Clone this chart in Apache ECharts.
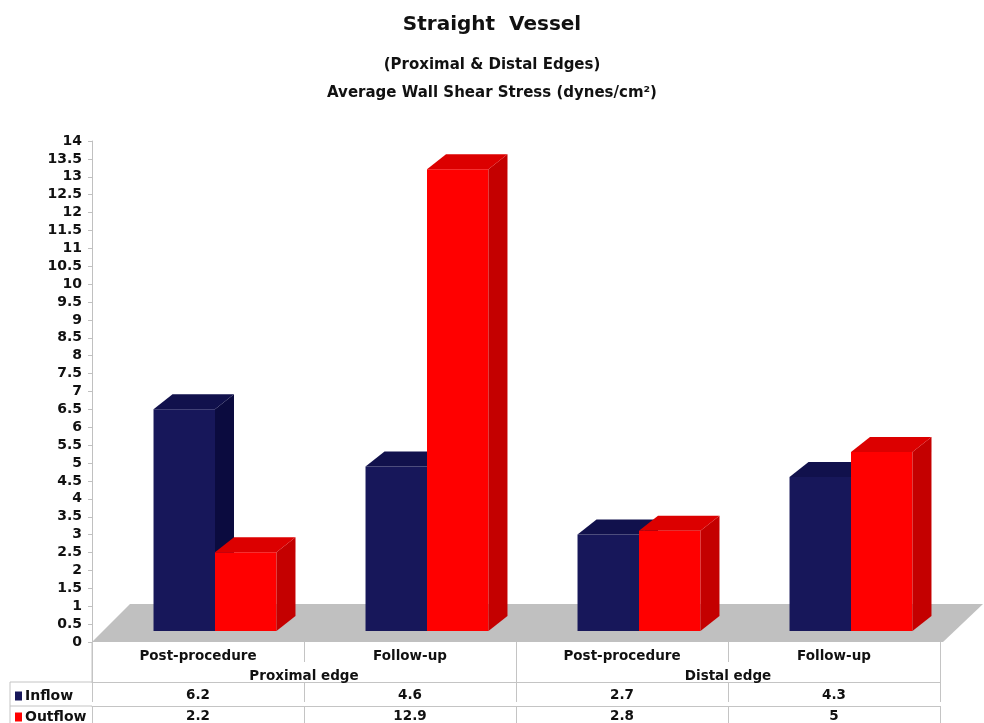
<!DOCTYPE html>
<html>
<head>
<meta charset="utf-8">
<script src="https://cdn.jsdelivr.net/npm/echarts@6/dist/echarts.min.js"></script>
<style>
  html, body { margin: 0; padding: 0; background: #fff; }
  #chart { width: 984px; height: 723px; }
</style>
</head>
<body>
<div id="chart"></div>
<script>
const subCategories = ['Post-procedure', 'Follow-up', 'Post-procedure', 'Follow-up'];
const groups = ['Proximal edge', 'Distal edge'];
const inflow = [6.2, 4.6, 2.7, 4.3];
const outflow = [2.2, 12.9, 2.8, 5];

const FONT = 'DejaVu Sans';
const tableLine = '#c4c4c4';

const chart = echarts.init(document.getElementById('chart'));

// 3D-looking bar: front face, side face, top face
const makeBar = (side, front, sideCol, topCol) => (params, api) => {
  const i = api.value(0);
  const v = api.value(1);
  const base = api.coord([i, 0]);
  const top = api.coord([i, v]);
  const band = api.size([1, 0])[0];
  const w = band * 0.29;
  const sx = 17, sy = -11, dx = 19, dy = -15;
  const x0 = base[0] + sx + (side === 0 ? -w : 0);
  const x1 = x0 + w;
  const yb = base[1] + sy;
  const yt = top[1] + sy;
  return {
    type: 'group',
    children: [
      { type: 'rect', shape: { x: x0, y: yt, width: w, height: yb - yt }, style: { fill: front } },
      { type: 'polygon', shape: { points: [[x1, yb], [x1 + dx, yb + dy], [x1 + dx, yt + dy], [x1, yt]] }, style: { fill: sideCol } },
      { type: 'polygon', shape: { points: [[x0, yt], [x0 + dx, yt + dy], [x1 + dx, yt + dy], [x1, yt]] }, style: { fill: topCol } }
    ]
  };
};

const floorItem = (params, api) => {
  const cs = params.coordSys;
  const yb = cs.y + cs.height;
  return {
    type: 'polygon',
    shape: { points: [[cs.x, yb], [cs.x + cs.width + 3, yb], [cs.x + cs.width + 43, yb - 38], [cs.x + 38, yb - 38]] },
    style: { fill: '#c0c0c0' }
  };
};

const labelStyle = { color: '#111', fontFamily: FONT, fontWeight: 'bold', fontSize: 13.5 };

const rowAxis = (data, offset, margin) => ({
  type: 'category',
  gridIndex: 0,
  position: 'bottom',
  offset: offset,
  data: data,
  axisLine: { show: true, lineStyle: { color: tableLine } },
  axisTick: { show: true, length: 20, lineStyle: { color: tableLine } },
  axisLabel: Object.assign({ margin: margin }, labelStyle),
  splitLine: { show: false }
});

const option = {
  backgroundColor: '#fff',
  animation: false,
  title: [
    { text: 'Straight  Vessel', left: 'center', top: 10, textStyle: { fontFamily: FONT, fontWeight: 'bold', fontSize: 20, color: '#111' } },
    { text: '(Proximal & Distal Edges)', left: 'center', top: 53, textStyle: { fontFamily: FONT, fontWeight: 'bold', fontSize: 15, color: '#111' } },
    { text: 'Average Wall Shear Stress (dynes/cm²)', left: 'center', top: 81, textStyle: { fontFamily: FONT, fontWeight: 'bold', fontSize: 15, color: '#111' } }
  ],
  legend: {
    data: ['Inflow', 'Outflow'],
    orient: 'vertical',
    left: 15,
    top: 689,
    height: 60,
    padding: 0,
    itemWidth: 7,
    itemHeight: 9,
    itemGap: 7,
    icon: 'rect',
    selectedMode: false,
    textStyle: { fontFamily: FONT, fontWeight: 'bold', fontSize: 14, lineHeight: 14, color: '#111', padding: [0, 0, 0, -2] }
  },
  grid: { left: 92, right: 44, top: 141, bottom: 80 },
  xAxis: [
    {
      type: 'category',
      data: subCategories,
      axisLine: { show: false },
      axisTick: { show: true, length: 20, lineStyle: { color: tableLine } },
      axisLabel: Object.assign({ margin: 7 }, labelStyle)
    },
    {
      type: 'category',
      position: 'bottom',
      offset: 20,
      data: groups,
      axisLine: { show: false },
      axisTick: { show: true, length: 20, lineStyle: { color: tableLine } },
      axisLabel: Object.assign({ margin: 7 }, labelStyle)
    },
    rowAxis(inflow.map(String), 40, 6),
    rowAxis(outflow.map(String), 64, 3)
  ],
  yAxis: {
    type: 'value',
    min: 0,
    max: 14,
    interval: 0.5,
    axisLine: { show: true, lineStyle: { color: '#c0c0c0' } },
    axisTick: { show: true, length: 4, lineStyle: { color: '#c0c0c0' } },
    splitLine: { show: false },
    axisLabel: { margin: 10, color: '#111', fontFamily: FONT, fontWeight: 'bold', fontSize: 14 }
  },
  series: [
    {
      type: 'custom',
      name: 'floor',
      silent: true,
      renderItem: floorItem,
      data: [[0, 0]],
      encode: { x: 0, y: 1 },
      z: 1
    },
    {
      type: 'custom',
      name: 'Inflow',
      itemStyle: { color: '#17175a' },
      renderItem: makeBar(0, '#17175a', '#0b0b3f', '#11114c'),
      data: inflow.map((v, i) => [i, v]),
      encode: { x: 0, y: 1 },
      z: 2
    },
    {
      type: 'custom',
      name: 'Outflow',
      itemStyle: { color: '#ff0000' },
      renderItem: makeBar(1, '#ff0000', '#c40000', '#dc0000'),
      data: outflow.map((v, i) => [i, v]),
      encode: { x: 0, y: 1 },
      z: 3
    }
  ]
};

chart.setOption(option);

// left column of the data table (row header cells)
const rect = chart.getModel().getComponent('grid', 0).coordinateSystem.getRect();
const yBottom = rect.y + rect.height;
const lineStyle = { stroke: tableLine, lineWidth: 1 };
chart.setOption({
  graphic: [
    { type: 'line', shape: { x1: 10, y1: yBottom + 40, x2: rect.x, y2: yBottom + 40 }, style: lineStyle },
    { type: 'line', shape: { x1: 10, y1: yBottom + 64, x2: rect.x, y2: yBottom + 64 }, style: lineStyle },
    { type: 'line', shape: { x1: 10, y1: yBottom + 40, x2: 10, y2: 723 }, style: lineStyle },
    { type: 'line', shape: { x1: rect.x, y1: yBottom, x2: rect.x, y2: yBottom + 40 }, style: lineStyle }
  ]
});
</script>
</body>
</html>
